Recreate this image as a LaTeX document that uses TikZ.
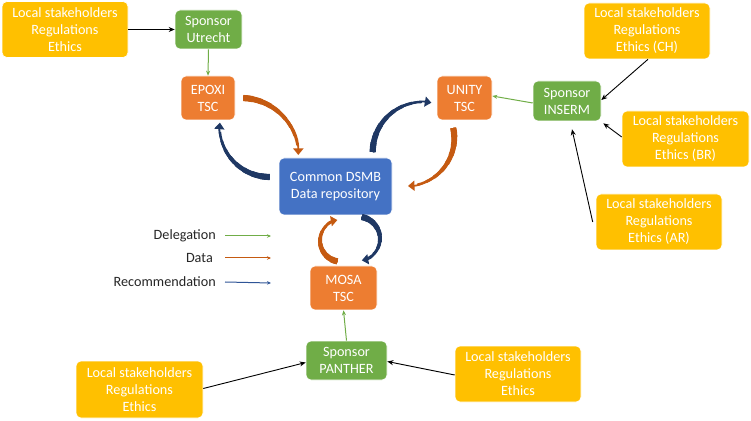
\documentclass[tikz,border=0pt]{standalone}
\usepackage{fontspec}
\setmainfont{Carlito}
\usetikzlibrary{arrows.meta,calc}
\definecolor{cyel}{HTML}{FFC000}
\definecolor{cgrn}{HTML}{70AD47}
\definecolor{corg}{HTML}{ED7D31}
\definecolor{cblu}{HTML}{4472C4}
\definecolor{aorg}{HTML}{C55A11}
\definecolor{ablu}{HTML}{1F3864}
\definecolor{lblu}{HTML}{2F5597}
\tikzset{
  box/.style={draw=white, line width=0.6pt, rounded corners=5pt, align=center, text=white,
    inner sep=0pt, font=\fontsize{14.2}{17}\selectfont},
  ls/.style={box, fill=cyel, minimum width=126pt, minimum height=56pt},
  spon/.style={box, fill=cgrn, minimum height=39pt},
  tsc/.style={box, fill=corg, minimum height=44pt},
  dsmb/.style={box, fill=cblu, minimum width=113pt, minimum height=57pt},
  blk/.style={-{Stealth[length=6pt,width=5pt]}, line width=0.9pt, black},
  dlg/.style={-{Stealth[length=5pt,width=4pt]}, line width=1pt, cgrn},
  arctip/.style={-{Triangle[length=6.5pt,width=10pt]}},
  legt/.style={anchor=east, font=\fontsize{14.2}{16}\selectfont, text=black!85, inner sep=0pt},
}
% tapered curved arrow: colour, centre, radius, tail angle, head angle
\newcommand{\taparc}[5]{%
  \foreach \k in {1,...,8}{%
    \pgfmathsetmacro{\lw}{1.8+\k*0.55}%
    \pgfmathsetmacro{\ea}{#4+(#5-#4)*(1-\k/9)}%
    \draw[#1, line width=\lw pt] (#2) ++(#4:#3pt) arc[start angle=#4, end angle=\ea, radius=#3pt];
  }%
  \draw[#1, line width=1.8pt, arctip] (#2) ++(#4:#3pt) arc[start angle=#4, end angle=#5, radius=#3pt];
}
\begin{document}
\begin{tikzpicture}[x=1pt,y=1pt]
\useasboundingbox (0,0) rectangle (751,420);
% nodes
\node[ls] (LS1) at (65,390.5) {Local stakeholders\\Regulations\\Ethics};
\node[spon, minimum width=67pt] (UTR) at (208.5,390.5) {Sponsor\\Utrecht};
\node[tsc, minimum width=54pt] (EPOXI) at (208,322) {EPOXI\\TSC};
\node[tsc, minimum width=55pt] (UNITY) at (464.5,322) {UNITY\\TSC};
\node[spon, minimum width=68pt, minimum height=40pt] (INS) at (567,319) {Sponsor\\INSERM};
\node[ls] (CH) at (647,389) {Local stakeholders\\Regulations\\Ethics (CH)};
\node[ls, minimum width=127pt] (BR) at (685.5,281) {Local stakeholders\\Regulations\\Ethics (BR)};
\node[ls] (AR) at (659,198) {Local stakeholders\\Regulations\\Ethics (AR)};
\node[dsmb] (DSMB) at (335.5,233.5) {Common DSMB\\Data repository};
\node[tsc, minimum width=67pt] (MOSA) at (343.5,132) {MOSA\\TSC};
\node[spon, minimum width=81pt] (PAN) at (346.5,59.5) {Sponsor\\PANTHER};
\node[ls, minimum width=127pt, minimum height=57pt] (LSBL) at (139.5,30.5) {Local stakeholders\\Regulations\\Ethics};
\node[ls] (LSBR) at (518,46) {Local stakeholders\\Regulations\\Ethics};
% legend
\node[legt] (L1) at (216,184) {Delegation};
\node[legt] (L2) at (213,162) {Data};
\node[legt] (L3) at (216,138) {Recommendation};
\coordinate (L1e) at (271,184);
\coordinate (L2e) at (271,162);
\coordinate (L3e) at (271,137);
\draw[-{Stealth[length=4pt,width=3.5pt]}, line width=1pt, cgrn] ([xshift=9pt]L1.east) -- (L1e);
\draw[-{Stealth[length=4pt,width=3.5pt]}, line width=1pt, aorg] ([xshift=12pt]L2.east) -- (L2e);
\draw[-{Stealth[length=4pt,width=3.5pt]}, line width=1pt, lblu] ([xshift=9pt]L3.east) -- (L3e);
% black arrows
\draw[blk] (LS1.east) -- (UTR.west);
\draw[blk] ([xshift=1pt]CH.south) -- ([yshift=1pt]INS.east);
\draw[blk] ([yshift=2pt]BR.west) -- ([xshift=2pt,yshift=-2pt]INS.south east);
\draw[blk] ([xshift=-3pt]AR.west) -- ([xshift=5pt,yshift=-8pt]INS.south);
\draw[blk] ([yshift=1pt]LSBL.east) -- ([yshift=-2pt]PAN.west);
\draw[blk] ([yshift=-1pt]LSBR.west) -- ([yshift=-1pt]PAN.east);
% delegation arrows
\draw[dlg] (UTR.south) -- (EPOXI.north);
\draw[dlg] ([yshift=-2pt]INS.west) -- ([yshift=2pt]UNITY.east);
\draw[dlg] (PAN.north) -- (MOSA.south);
% centres of the curved arrows
\coordinate (c1) at ($(EPOXI.east)+(6,-57)$);
\coordinate (c2) at ($(DSMB.west)+(-9,59.5)$);
\coordinate (c3) at ($(UNITY.west)+(-14,-54)$);
\coordinate (c4) at ($(DSMB.east)+(14,48.5)$);
\coordinate (c5) at ($(MOSA.north)+(-2.5,25)$);
\coordinate (c6) at ($(MOSA.north)+(14.5,27)$);
% curved arrows
\taparc{aorg}{c1}{57}{88}{0}
\taparc{ablu}{c2}{50}{270}{175}
\taparc{ablu}{c3}{50}{180}{80}
\taparc{aorg}{c4}{48}{12}{-88}
\taparc{aorg}{c5}{21}{260}{100}
\taparc{ablu}{c6}{22}{80}{-80}
\end{tikzpicture}
\end{document}
